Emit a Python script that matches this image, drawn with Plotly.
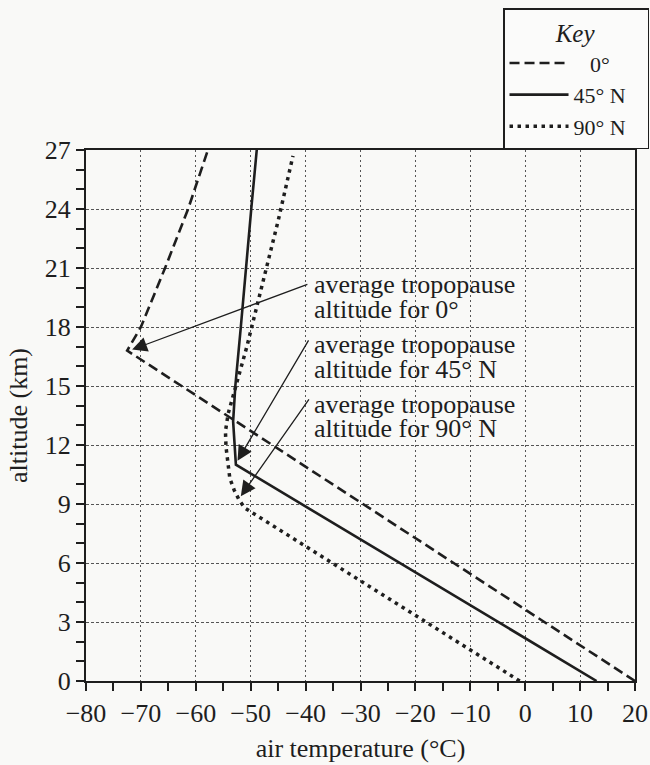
import plotly.graph_objects as go

# ---- data ----
eq_temp = [20, -72.5, -70, -65.6, -61.4, -57.8]
eq_alt = [0, 16.8, 18, 21, 24, 27]

mid_temp = [13, -52.7, -53.2, -52.8, -51.8, -50.9, -49.9, -48.9]
mid_alt = [0, 11, 13.2, 15, 18, 21, 24, 27]

pole_temp = [-1, -51.1, -52.1, -53.0, -53.8, -54.1, -54.5, -54.6, -54.1, -53.3, -50.7, -48.3, -45.0, -42.3]
pole_alt = [0, 8.8, 9.2, 9.7, 10.3, 11.0, 11.9, 12.7, 13.6, 14.4, 17.0, 19.7, 23.4, 26.7]

PAD = "\u00a0"
TAIL = PAD * 2 + "\u2009"
series_names = [PAD * 3 + "0°" + PAD * 3 + TAIL, "45° N" + TAIL, "90° N" + TAIL]

x_ticks = [-80, -70, -60, -50, -40, -30, -20, -10, 0, 10, 20]
y_ticks = [0, 3, 6, 9, 12, 15, 18, 21, 24, 27]

# annotation label lines and their altitudes; arrows from label to tropopause point
note_lines = ["average tropopause", "altitude for 0°",
              "average tropopause", "altitude for 45° N",
              "average tropopause", "altitude for 90° N"]
note_line_alt = [20.16, 18.89, 17.11, 15.84, 14.06, 12.84]
note_x = -38.9
arrow_tail = [(-39.4, 20.2), (-39.3, 17.4), (-39.2, 14.4)]
arrow_tip = [(-71.6, 16.85), (-52.4, 11.2), (-51.8, 9.4)]

SERIF = "Liberation Serif, Times New Roman, serif"
INK = "#1e1e1e"

fig = go.Figure()
fig.add_trace(go.Scatter(x=eq_temp, y=eq_alt, mode="lines", name=series_names[0],
                         line=dict(color=INK, width=2.6, dash="10px,5px")))
fig.add_trace(go.Scatter(x=mid_temp, y=mid_alt, mode="lines", name=series_names[1],
                         line=dict(color=INK, width=2.6)))
fig.add_trace(go.Scatter(x=pole_temp, y=pole_alt, mode="lines", name=series_names[2],
                         line=dict(color=INK, width=3.5, dash="3.5px,4.5px")))

annotations = []
for txt, ty in zip(note_lines, note_line_alt):
    annotations.append(dict(x=note_x, y=ty, xref="x", yref="y", text=txt,
                            showarrow=False, xanchor="left", yanchor="middle", align="left",
                            font=dict(family=SERIF, size=26, color=INK)))
for (tx, ty), (hx, hy) in zip(arrow_tail, arrow_tip):
    annotations.append(dict(x=hx, y=hy, xref="x", yref="y", ax=tx, ay=ty,
                            axref="x", ayref="y", text="", showarrow=True,
                            arrowhead=2, arrowsize=2.3, arrowwidth=1.3, arrowcolor=INK))

fig.update_layout(
    width=650, height=765,
    margin=dict(l=86, r=15, t=150, b=84, autoexpand=False),
    paper_bgcolor="#f9f9f7", plot_bgcolor="#f9f9f7",
    font=dict(family=SERIF, size=26, color=INK),
    showlegend=True,
    legend=dict(x=0.7596, y=1.267, xanchor="left", yanchor="top",
                bgcolor="#fbfbfa", bordercolor=INK, borderwidth=1.5,
                font=dict(family=SERIF, size=22, color=INK),
                title=dict(text="<i>Key</i>", side="top center",
                           font=dict(family=SERIF, size=25, color=INK)),
                itemwidth=59, tracegroupgap=0),
    annotations=annotations,
    xaxis=dict(range=[-80, 20], tickvals=x_ticks, ticktext=[str(v).replace("-", "\u2212") for v in x_ticks],
               ticklabeloverflow="allow",
               showgrid=True, gridcolor="#555", griddash="2px,3px", gridwidth=1,
               zeroline=False, showline=True, linecolor=INK, linewidth=2, mirror=True,
               ticks="outside", ticklen=8, tickwidth=1.5, tickcolor=INK,
               minor=dict(dtick=5, tick0=-80, ticks="outside", ticklen=8, tickwidth=1.5,
                          tickcolor=INK, showgrid=False),
               tickfont=dict(family=SERIF, size=26, color=INK),
               title=dict(text="air temperature (°C)", standoff=12,
                          font=dict(family=SERIF, size=26, color=INK))),
    yaxis=dict(range=[0, 27], tickvals=y_ticks,
               showgrid=True, gridcolor="#555", griddash="3px,2px", gridwidth=1,
               zeroline=False, showline=True, linecolor=INK, linewidth=2, mirror=True,
               ticks="outside", ticklen=8, tickwidth=1.5, tickcolor=INK,
               minor=dict(dtick=1, tick0=0, ticks="outside", ticklen=8, tickwidth=1.5,
                          tickcolor=INK, showgrid=False),
               tickfont=dict(family=SERIF, size=26, color=INK),
               title=dict(text="altitude (km)", standoff=10,
                          font=dict(family=SERIF, size=26, color=INK))),
)

fig.write_html("out.html")
